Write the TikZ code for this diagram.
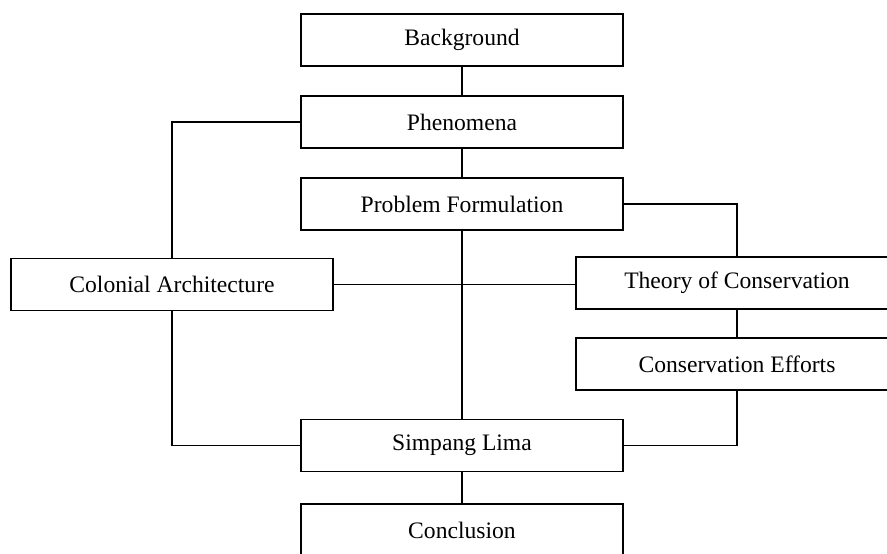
\documentclass[tikz,border=0pt]{standalone}
\usepackage{fontspec}
\setmainfont{Liberation Serif}
\usetikzlibrary{positioning}

\begin{document}
\begin{tikzpicture}[x=1pt, y=-1pt,
    box/.style={draw, line width=1.2pt, minimum width=322pt, minimum height=52pt, inner sep=0pt, font=\fontsize{23.6}{28}\selectfont},
    link/.style={line width=1.2pt}]
                \useasboundingbox (0,0) rectangle (887,554);
                \clip (0,0) rectangle (887,554);

                % Middle column
                \node[box] (background) at (462, 40) {Background};
                \node[box] (phenomena) at (462, 122) {Phenomena};
                \node[box] (problem) at (462, 204) {Problem Formulation};
                \node[box] (simpang) at (462, 445.5) {Simpang Lima};
                \node[box] (conclusion) at (462, 530) {Conclusion};

                % Side boxes
                \node[box] (colonial) at (172, 284.5) {Colonial Architecture};
                \node[box] (theory) at (737, 283) {Theory of Conservation};
                \node[box] (efforts) at (737, 364) {Conservation Efforts};

                % Connections
                \draw[link] (background) -- (phenomena);
                \draw[link] (phenomena) -- (problem);
                \draw[link] (problem) -- (simpang);
                \draw[link] (simpang) -- (conclusion);
                \draw[link] (theory) -- (efforts);
                \draw[link] (colonial.east) -- (colonial.east -| theory.west);
                \draw[link] (phenomena.west) -| (colonial.north);
                \draw[link] (problem.east) -| (theory.north);
                \draw[link] (colonial.south) |- (simpang.west);
                \draw[link] (efforts.south) |- (simpang.east);
            \end{tikzpicture}
\end{document}
